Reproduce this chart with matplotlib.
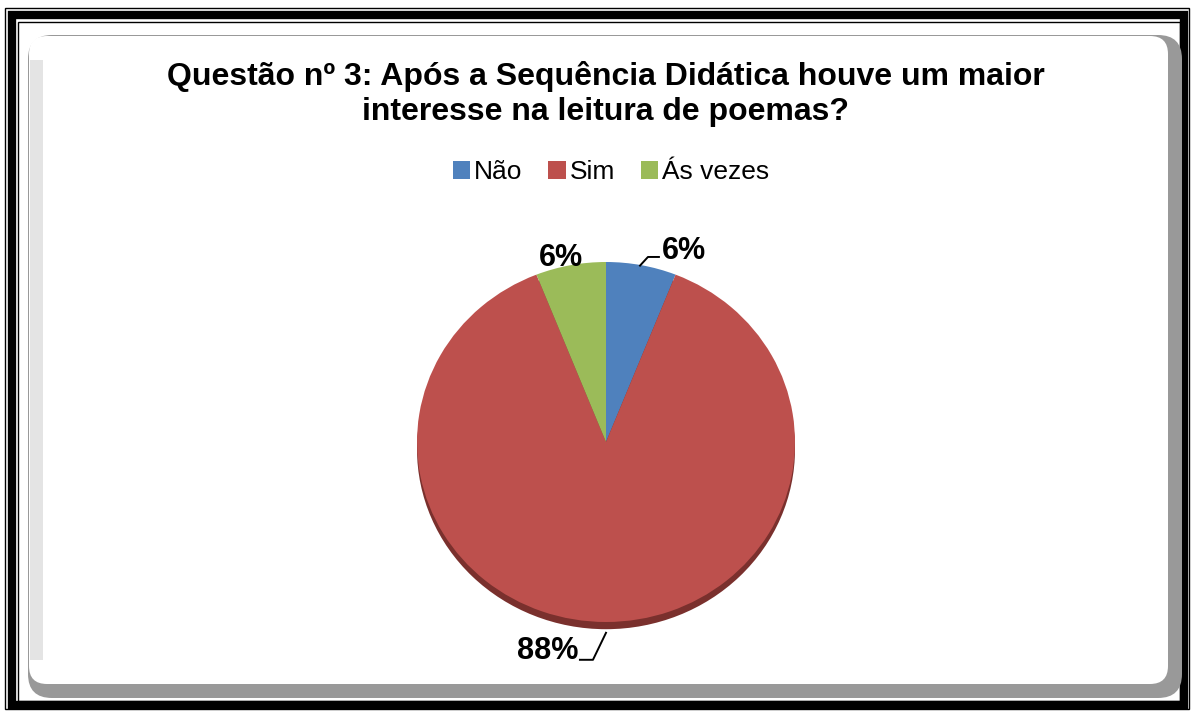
import matplotlib.pyplot as plt
from matplotlib.patches import Rectangle, FancyBboxPatch, Ellipse

plt.rcParams['font.family'] = ['Liberation Sans', 'DejaVu Sans']

categories = ['Não', 'Sim', 'Ás vezes']
values = [6, 88, 6]
colors = ['#4F81BD', '#BD504D', '#9BBB59']
title = 'Questão nº 3: Após a Sequência Didática houve um maior\ninteresse na leitura de poemas?'

W, H = 1192, 711
fig = plt.figure(figsize=(W / 100, H / 100), dpi=100)


def px(x, y):
    # pixel (from top-left) -> figure fraction
    return x / W, 1 - y / H


def add_rect(x0, y0, x1, y1, **kw):
    a, b = px(x0, y1)
    fig.add_artist(Rectangle((a, b), (x1 - x0) / W, (y1 - y0) / H,
                             transform=fig.transFigure, fill=False, zorder=-1, **kw))


# double black frame
add_rect(5, 8, 1189, 709, ec='black', lw=1)
add_rect(12, 15, 1184, 705, ec='black', lw=6)
add_rect(18, 22, 1180, 701, ec='black', lw=1)


def add_box(x0, y0, x1, y1, r, fc, z):
    a, b = px(x0, y1)
    fig.add_artist(FancyBboxPatch((a + r / W, b + r / H),
                                  (x1 - x0 - 2 * r) / W, (y1 - y0 - 2 * r) / H,
                                  boxstyle=f'round,pad={r / W}',
                                  mutation_aspect=W / H, zorder=z,
                                  transform=fig.transFigure, fc=fc, ec='none'))


# rounded grey chart area
add_box(28, 35, 1182, 698, 24, '#999999', -1)
add_box(29, 36, 1168, 684, 18, 'white', -1)
a, b = px(30, 660)
fig.add_artist(Rectangle((a, b), 13 / W, 600 / H, transform=fig.transFigure,
                         fc='#e4e4e4', ec='none', zorder=-1))

fig.text(606 / W, 1 - 94 / H, title, ha='center', va='center',
         fontsize=23, fontweight='bold', linespacing=1.2)

# pie axes
ax = fig.add_axes([417 / W, (H - 622) / H, 378 / W, 360 / H])
ax.add_patch(Ellipse((0, -0.04), 2, 2, fc='#7a302d', ec='none', zorder=0,
                     clip_on=False))
wedges, _ = ax.pie(values, colors=colors, startangle=90, counterclock=False,
                   wedgeprops=dict(linewidth=0, clip_on=False))
ax.set_aspect('auto')
ax.set_xlim(-1, 1)
ax.set_ylim(-1, 1)
ax.axis('off')

total = sum(values)
pct = [f'{v / total * 100:.0f}%' for v in values]
label_pos = [(0.41, 1.06), (-0.31, -1.16), (-0.24, 1.02)]
for t, (x, y) in zip(pct, label_pos):
    ax.text(x, y, t, ha='center', va='center', fontsize=22,
            fontweight='bold', clip_on=False)
ax.plot([0.18, 0.222, 0.28], [0.98, 1.028, 1.028], color='black', lw=1.4,
        clip_on=False)
ax.plot([0, -0.069, -0.138], [-1.06, -1.21, -1.21], color='black', lw=1.4,
        clip_on=False)

fig.legend(wedges, categories, loc='center', bbox_to_anchor=(611 / W, 1 - 172 / H),
           ncol=3, frameon=False, fontsize=19, handlelength=0.65, handleheight=0.65,
           handletextpad=0.15, columnspacing=1.0)

fig.savefig('out.png', dpi=100)
